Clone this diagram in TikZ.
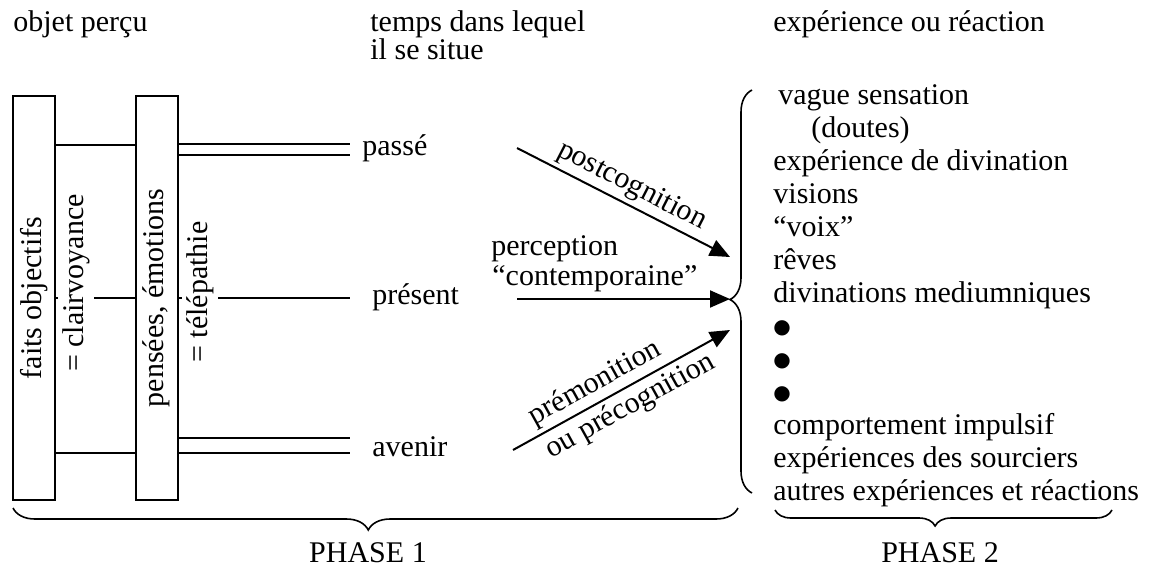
\documentclass[tikz,border=0pt]{standalone}
\usepackage{fontspec}
\setmainfont{Liberation Serif}
\newfontfamily\symbfont{DejaVu Sans}
\usetikzlibrary{arrows.meta,decorations.pathreplacing}

\tikzset{
    boite/.style={draw, line width=1pt, minimum width=21pt, minimum height=202pt, inner sep=0pt},
    lien/.style={line width=0.8pt},
    fleche/.style={line width=1pt, -{Triangle[length=10pt,width=8.5pt]}},
    texte/.style={inner sep=0pt, anchor=base west},
    etiq/.style={fill=white, inner sep=2pt, rotate=90},
    accolade/.style={decorate, line width=0.8pt, decoration={brace, amplitude=#1}},
    accolade/.default=11pt
}

\begin{document}
\begin{tikzpicture}[x=0.5pt, y=-0.5pt, font=\fontsize{15}{16.5}\selectfont]
    \useasboundingbox (0,0) rectangle (1155,568);

    % titres
    \node[texte] (objet) at (13,31) {objet perçu};
    \node[texte] (temps) at (370,31) {temps dans lequel};
    \node[texte] (situe) at (370,59) {il se situe};
    \node[texte] (reaction) at (773,31) {expérience ou réaction};

    % les deux boites
    \node[boite] (faits) at (34,298) {\rotatebox{90}{faits objectifs}};
    \node[boite] (pensees) at (156.5,298) {\rotatebox{90}{pensées, émotions}};

    \node[texte] (passe) at (362,155) {passé};
    \node[texte] (present) at (372,304) {présent};
    \node[texte] (avenir) at (372,456) {avenir};

    % liaisons
    \draw[lien] (faits.east |- 0,145) -- (pensees.west |- 0,145);
    \draw[lien] (pensees.east |- 0,144) -- ([xshift=-6pt]passe.west |- 0,144);
    \draw[lien] (pensees.east |- 0,155) -- ([xshift=-6pt]passe.west |- 0,155);

    \draw[lien] (faits.east |- 0,298) -- (pensees.west |- 0,298);
    \draw[lien] (pensees.east |- 0,298) -- ([xshift=-11pt]present.west |- 0,298);

    \draw[lien] (faits.east |- 0,453) -- (pensees.west |- 0,453);
    \draw[lien] (pensees.east |- 0,438) -- ([xshift=-11pt]avenir.west |- 0,438);
    \draw[lien] (pensees.east |- 0,453) -- ([xshift=-11pt]avenir.west |- 0,453);

    \node[etiq] (clair) at (76,283) {= clairvoyance};
    \node[etiq] (telep) at (200,292) {= télépathie};

    % fleches
    \coordinate (post0) at (517,148);
    \coordinate (post1) at (730,257);
    \coordinate (perc0) at (517,299);
    \coordinate (perc1) at (730,299);
    \coordinate (prem0) at (513,450);
    \coordinate (prem1) at (730,330);

    \draw[fleche] (post0) -- (post1) node[midway, sloped, above, inner sep=2pt] {postcognition};
    \draw[fleche] (perc0) -- (perc1);
    \draw[fleche] (prem0) -- (prem1)
        node[pos=0.42, sloped, above, inner sep=2pt] {prémonition}
        node[pos=0.5, sloped, below, inner sep=2pt] {ou précognition};
    \node[texte] (perc) at (491,255) {perception};
    \node[texte] (contemp) at (492,285) {``contemporaine''};

    % liste des reactions
    \node[texte] (l1) at (773,104) {\hspace*{2.5pt}vague sensation};
    \node[texte] (l2) at (773,137) {\hspace*{19pt}(doutes)};
    \node[texte] (l3) at (773,170) {expérience de divination};
    \node[texte] (l4) at (773,203) {visions};
    \node[texte] (l5) at (773,236) {``voix''};
    \node[texte] (l6) at (773,269) {rêves};
    \node[texte] (l7) at (773,302) {divinations mediumniques};
    \node[texte] (l8) at (773,333) {\symbfont\fontsize{10}{10}\selectfont ●};
    \node[texte] (l9) at (773,366) {\symbfont\fontsize{10}{10}\selectfont ●};
    \node[texte] (l10) at (773,399) {\symbfont\fontsize{10}{10}\selectfont ●};
    \node[texte] (l11) at (773,434) {comportement impulsif};
    \node[texte] (l12) at (773,467) {expériences des sourciers};
    \node[texte] (l13) at (773,500) {autres expériences et réactions};

    % accolades
    \draw[accolade, decoration={aspect=0.48}] (752,493) -- (752,90);
    \draw[accolade, decoration={aspect=0.51}] (738,508) -- (13,508);
    \draw[accolade=8pt, decoration={aspect=0.525}] (1112,510) -- (775,510);

    \node (phase1) at (368,553) {PHASE 1};
    \node (phase2) at (940,553) {PHASE 2};
\end{tikzpicture}
\end{document}
